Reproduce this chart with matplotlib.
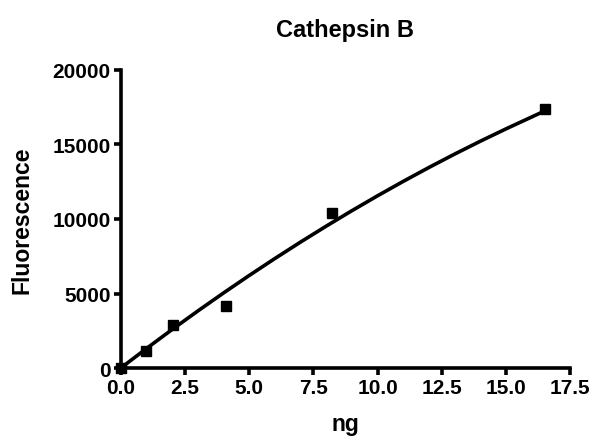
import matplotlib
matplotlib.use("Agg")
import matplotlib.pyplot as plt

# measured points
ng = [0.0, 0.97, 2.05, 4.10, 8.24, 16.53]
fluor = [0, 1180, 2910, 4170, 10370, 17350]

# fitted curve
curve_x = [0, 1, 2, 3, 4, 5, 6, 7, 8, 9, 10, 11, 12, 13, 14, 15, 16.5]
curve_y = [0, 1310, 2585, 3826, 5033, 6205, 7343, 8446, 9515, 10550,
           11550, 12516, 13448, 14344, 15207, 16035, 17230]

xticks = [0.0, 2.5, 5.0, 7.5, 10.0, 12.5, 15.0, 17.5]
yticks = [0, 5000, 10000, 15000, 20000]

plt.rcParams["font.family"] = ["Liberation Sans", "DejaVu Sans"]
plt.rcParams["font.weight"] = "bold"

fig = plt.figure(figsize=(5.94, 4.39), dpi=100)
ax = fig.add_axes([0.203, 0.159, 0.757, 0.680])

ax.plot(curve_x, curve_y, color="black", lw=2.6, clip_on=False)
ax.plot(ng, fluor, ls="none", marker="s", ms=7.5, color="black", clip_on=False)

ax.set_xlim(0, 17.5)
ax.set_ylim(0, 20000)
ax.set_xticks(xticks)
ax.set_xticklabels([f"{t:.1f}" for t in xticks])
ax.set_yticks(yticks)
ax.set_yticklabels([str(t) for t in yticks])

for side in ("top", "right"):
    ax.spines[side].set_visible(False)
for side in ("left", "bottom"):
    ax.spines[side].set_linewidth(2.6)
ax.tick_params(direction="out", length=5, width=2.6, labelsize=15, pad=2)

ax.set_title("Cathepsin B", fontsize=17, fontweight="bold", pad=24)
ax.set_xlabel("ng", fontsize=16.5, fontweight="bold", labelpad=11)
ax.set_ylabel("Fluorescence", fontsize=16.5, fontweight="bold", labelpad=14)

fig.savefig("out.png", dpi=100)
